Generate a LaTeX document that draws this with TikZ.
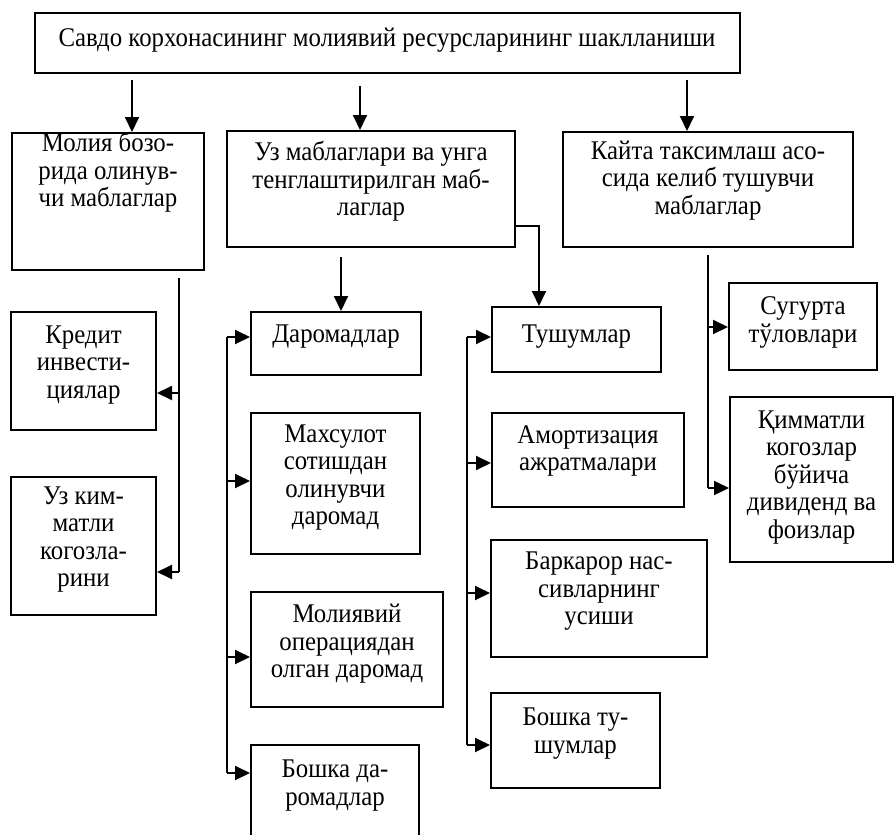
\documentclass[tikz,border=0pt]{standalone}
\usepackage{fontspec}
\setmainfont{Liberation Serif}[FakeStretch=0.92]
\usetikzlibrary{arrows.meta,fit}
\begin{document}
\begin{tikzpicture}[x=1pt,y=-1pt,
  box/.style={draw,line width=2pt,inner sep=0pt},
  txt/.style={align=center,font=\fontsize{27}{27.5}\selectfont,inner sep=0pt},
  arr/.style={line width=2pt,-{Triangle[length=15pt,width=14pt]}},
  ln/.style={line width=2pt}]
\useasboundingbox (0,0) rectangle (895,835);
% boxes
\node[box,fit={(35,13)(740,73)}] (title) {};
\node[box,fit={(12,133)(204,270)}] (A) {};
\node[box,fit={(227,131)(515,247)}] (B) {};
\node[box,fit={(563,132)(853,247)}] (C) {};
\node[box,fit={(11,312)(156,430)}] (KR) {};
\node[box,fit={(11,477)(156,615)}] (UK) {};
\node[box,fit={(251,312)(421,375)}] (DR) {};
\node[box,fit={(251,413)(420,554)}] (MX) {};
\node[box,fit={(251,592)(443,707)}] (MO) {};
\node[box,fit={(251,745)(419,850)}] (BD) {};
\node[box,fit={(492,307)(661,372)}] (TU) {};
\node[box,fit={(492,413)(684,507)}] (AM) {};
\node[box,fit={(491,540)(707,657)}] (BK) {};
\node[box,fit={(491,693)(660,788)}] (BT) {};
\node[box,fit={(729,283)(877,370)}] (SG) {};
\node[box,fit={(730,397)(893,562)}] (QM) {};
% texts
\node[txt] (titleT) at (387,40) {Савдо корхонасининг молиявий ресурсларининг шаклланиши};
\node[txt] (AT) at (108,172.5) {Молия бозо-\\рида олинув-\\чи маблаглар};
\node[txt] (BT0) at (371,181.5) {Уз маблаглари ва унга\\тенглаштирилган маб-\\лаглар};
\node[txt] (CT) at (708,180.5) {Кайта таксимлаш асо-\\сида келиб тушувчи\\маблаглар};
\node[txt] (KRT) at (83.5,365) {Кредит\\инвести-\\циялар};
\node[txt] (UKT) at (83.5,539.5) {Уз ким-\\матли\\когозла-\\рини};
\node[txt] (DRT) at (336,337) {Даромадлар};
\node[txt] (MXT) at (335.5,477.5) {Махсулот\\сотишдан\\олинувчи\\даромад};
\node[txt] (MOT) at (347,644) {Молиявий\\операциядан\\олган даромад};
\node[txt] (BDT) at (335,785.5) {Бошка да-\\ромадлар};
\node[txt] (TUT) at (576.5,337) {Тушумлар};
\node[txt] (AMT) at (588,451) {Амортизация\\ажратмалари};
\node[txt] (BKT) at (599,591.5) {Баркарор нас-\\сивларнинг\\усиши};
\node[txt] (BTT) at (575.5,733.5) {Бошка ту-\\шумлар};
\node[txt] (SGT) at (803,322.5) {Сугурта\\тўловлари};
\node[txt] (QMT) at (811.5,477.5) {Қимматли\\когозлар\\бўйича\\дивиденд ва\\фоизлар};
% connectors from title
\coordinate (s1) at (132,80);
\coordinate (s2) at (360,86);
\coordinate (s3) at (687,80);
\draw[arr] (s1) -- (s1 |- A.north);
\draw[arr] (s2) -- (s2 |- B.north);
\draw[arr] (s3) -- (s3 |- C.north);
% A branch
\coordinate (a0) at (179,278);
\coordinate (a1) at (179,393);
\coordinate (a2) at (179,572);
\draw[ln] (a0) -- (a2);
\draw[arr] (a1) -- (a1 -| KR.east);
\draw[arr] (a2) -- (a2 -| UK.east);
% B branch
\coordinate (b1) at (341,257);
\draw[arr] (b1) -- (b1 |- DR.north);
\coordinate (b2) at (539,226);
\draw[arr] (b2 -| B.east) -- (b2) -- (b2 |- TU.north);
% Daromadlar group
\coordinate (d1) at (227,337);
\coordinate (d2) at (227,481);
\coordinate (d3) at (227,657);
\coordinate (d4) at (227,773);
\draw[ln] (d1) -- (d4);
\draw[arr] (d1) -- (d1 -| DR.west);
\draw[arr] (d2) -- (d2 -| MX.west);
\draw[arr] (d3) -- (d3 -| MO.west);
\draw[arr] (d4) -- (d4 -| BD.west);
% Tushumlar group
\coordinate (t1) at (467,337);
\coordinate (t2) at (467,463);
\coordinate (t3) at (467,593);
\coordinate (t4) at (467,745);
\draw[ln] (t1) -- (t4);
\draw[arr] (t1) -- (t1 -| TU.west);
\draw[arr] (t2) -- (t2 -| AM.west);
\draw[arr] (t3) -- (t3 -| BK.west);
\draw[arr] (t4) -- (t4 -| BT.west);
% C branch
\coordinate (c0) at (708,255);
\coordinate (c1) at (708,327);
\coordinate (c3) at (708,488);
\draw[ln] (c0) -- (c3);
\draw[arr] (c1) -- (c1 -| SG.west);
\draw[arr] (c3) -- (c3 -| QM.west);
\end{tikzpicture}
\end{document}
